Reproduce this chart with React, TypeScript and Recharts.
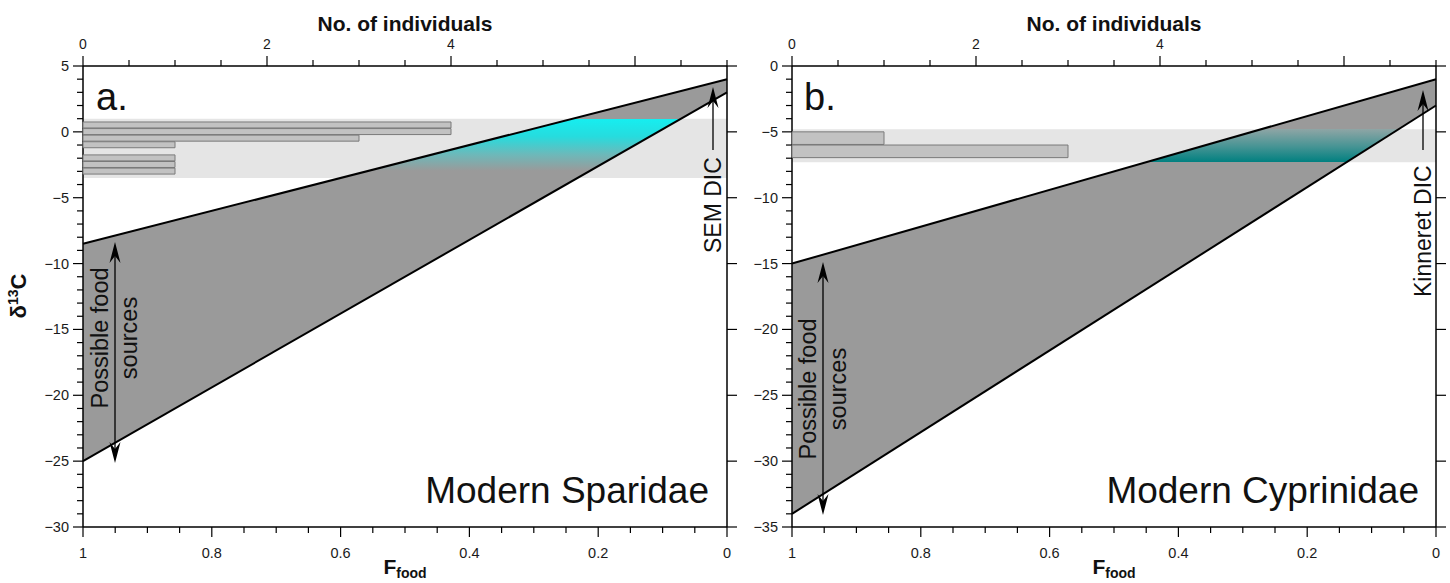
import { ComposedChart, Area, Line, XAxis, YAxis, BarChart, Bar } from "recharts";

// F_food at the two ends of the mixing lines
const fFood = [1, 0];

// a. Modern Sparidae
const spUpper = [-8.5, 4];
const spLower = [-25, 3];
const spBand = [-3.5, 1];
const spBins = [0.5, 0, -0.5, -1, -1.5, -2, -2.5, -3];
const spCounts = [4, 4, 3, 1, 0, 1, 1, 1];

// b. Modern Cyprinidae
const cyUpper = [-15, -1];
const cyLower = [-34, -3];
const cyBand = [-7.3, -4.8];
const cyBins = [-5.5, -6.5];
const cyCounts = [1, 3];

const fMajor = [1, 0.8, 0.6, 0.4, 0.2, 0];
const nLabels = [0, 2, 4];

const FONT = '"Liberation Sans", Arial, Helvetica, sans-serif';
const INK = "#1a1a1a";

const range = (a: number, b: number, step: number) => {
  const out: number[] = [];
  const n = Math.round((b - a) / step);
  for (let i = 0; i <= n; i++) out.push(Math.round((a + i * step) * 1000) / 1000);
  return out;
};
const near = (a: number, b: number) => Math.abs(a - b) < 1e-6;
const fmt = (v: number) => (v < 0 ? "\u2212" + String(-v) : String(v));

function BottomTick(props: any) {
  const { x, y, payload } = props;
  const v = payload.value;
  const major = fMajor.some(m => near(m, v));
  return (
    <g>
      <line x1={x} x2={x} y1={y} y2={y + (major ? 10 : 6)} stroke="#000" strokeWidth={1.2} />
      {major && (
        <text x={x} y={y + 31} textAnchor="middle" fontSize={14.5} fill={INK} fontFamily={FONT}>
          {fmt(v)}
        </text>
      )}
    </g>
  );
}

function LeftTick(props: any) {
  const { x, y, payload } = props;
  const v = payload.value;
  const major = v % 5 === 0;
  return (
    <g>
      <line x1={x - (major ? 10 : 6)} x2={x} y1={y} y2={y} stroke="#000" strokeWidth={1.2} />
      {major && (
        <text x={x - 14} y={y + 5} textAnchor="end" fontSize={14.5} fill={INK} fontFamily={FONT}>
          {fmt(v)}
        </text>
      )}
    </g>
  );
}

function RightTick(props: any) {
  const { x, y } = props;
  return <line x1={x} x2={x + 10} y1={y} y2={y} stroke="#000" strokeWidth={1.2} />;
}

function TopTick(props: any) {
  const { x, y, payload } = props;
  const v = payload.value;
  const major = v % 2 === 0;
  return (
    <g>
      <line x1={x} x2={x} y1={y} y2={y - (major ? 10 : 6)} stroke="#000" strokeWidth={1.2} />
      {nLabels.includes(v) && (
        <text x={x} y={y - 17} textAnchor="middle" fontSize={14} fill={INK} fontFamily={FONT}>
          {v}
        </text>
      )}
    </g>
  );
}

interface PanelProps {
  id: string;
  left: number;
  width: number;
  rightW: number;
  upper: number[];
  lower: number[];
  band: number[];
  bins: number[];
  counts: number[];
  yMin: number;
  yMax: number;
  bandStops: [number, string][];
  barSize: number;
}

function Panel({ id, left, width, rightW, upper, lower, band, bins, counts, yMin, yMax, bandStops, barSize }: PanelProps) {
  const rows = fFood.map((f, i) => ({
    f,
    hi: upper[i],
    lo: lower[i],
    wedge: [lower[i], upper[i]],
    band: [band[0], band[1]],
  }));
  const hist = bins.map((d, i) => ({ d, n: counts[i] }));

  // gradient offsets inside the wedge's bounding box, from the band limits
  const top = Math.max(...upper, ...lower);
  const bottom = Math.min(...upper, ...lower);
  const o1 = (top - band[1]) / (top - bottom);
  const o2 = (top - band[0]) / (top - bottom);

  const yTicks = range(yMin, yMax, 1);
  const yMajor = range(yMin, yMax, 5);

  return (
    <>
      <div style={{ position: "absolute", left, top: 0 }}>
        <ComposedChart width={width} height={583} data={rows} margin={{ top: 66, right: 0, bottom: 0, left: 0 }}>
          <defs>
            <linearGradient id={id} x1="0" y1="0" x2="0" y2="1">
              <stop offset={0} stopColor="#9a9a9a" />
              <stop offset={o1} stopColor="#9a9a9a" />
              {bandStops.map(([t, c], i) => (
                <stop key={i} offset={o1 + t * (o2 - o1)} stopColor={c} />
              ))}
              <stop offset={o2} stopColor="#9a9a9a" />
              <stop offset={1} stopColor="#9a9a9a" />
            </linearGradient>
          </defs>
          <XAxis
            dataKey="f"
            type="number"
            domain={[0, 1]}
            reversed
            ticks={range(0, 1, 0.05)}
            interval={0}
            height={56}
            tickSize={0}
            tickMargin={0}
            tickLine={false}
            tick={BottomTick}
            axisLine={{ stroke: "#000", strokeWidth: 1.5 }}
          />
          <YAxis
            type="number"
            domain={[yMin, yMax]}
            allowDataOverflow
            ticks={yTicks}
            interval={0}
            width={83}
            tickSize={0}
            tickMargin={0}
            tickLine={false}
            tick={LeftTick}
            axisLine={{ stroke: "#000", strokeWidth: 1.5 }}
          />
          <YAxis
            yAxisId="right"
            orientation="right"
            type="number"
            domain={[yMin, yMax]}
            allowDataOverflow
            ticks={yMajor}
            interval={0}
            width={rightW}
            tickSize={0}
            tickMargin={0}
            tickLine={false}
            tick={RightTick}
            axisLine={{ stroke: "#000", strokeWidth: 1.5 }}
          />
          <Area dataKey="band" type="linear" fill="#e5e5e5" fillOpacity={1} stroke="none" isAnimationActive={false} />
          <Area dataKey="wedge" type="linear" fill={`url(#${id})`} fillOpacity={1} stroke="none" isAnimationActive={false} />
          <Line dataKey="hi" type="linear" stroke="#000" strokeWidth={2} dot={false} isAnimationActive={false} />
          <Line dataKey="lo" type="linear" stroke="#000" strokeWidth={2} dot={false} isAnimationActive={false} />
        </ComposedChart>
      </div>
      <div style={{ position: "absolute", left, top: 0 }}>
        <BarChart
          width={width}
          height={583}
          data={hist}
          layout="vertical"
          margin={{ top: 0, right: rightW, bottom: 56, left: 83 }}
        >
          <XAxis
            type="number"
            orientation="top"
            domain={[0, 7]}
            ticks={range(0, 7, 0.5)}
            interval={0}
            height={66}
            tickSize={0}
            tickMargin={0}
            tickLine={false}
            tick={TopTick}
            axisLine={{ stroke: "#000", strokeWidth: 1.5 }}
          />
          <YAxis type="number" dataKey="d" domain={[yMin, yMax]} allowDataOverflow reversed hide />
          <Bar dataKey="n" fill="#c2c2c2" stroke="#7a7a7a" strokeWidth={1} barSize={barSize} isAnimationActive={false} />
        </BarChart>
      </div>
    </>
  );
}

function ArrowHead({ x, y, dir }: { x: number; y: number; dir: 1 | -1 }) {
  // dir 1: pointing up, -1: pointing down
  const b = y + dir * 21;
  const n = y + dir * 14;
  return <path d={`M${x},${y} L${x + 5.5},${b} L${x},${n} L${x - 5.5},${b} Z`} fill="#000" />;
}

function Annotations() {
  const t = { fontFamily: FONT, fill: "#111" };
  return (
    <svg width={1450} height={583} style={{ position: "absolute", left: 0, top: 0, pointerEvents: "none" }}>
      {/* axis titles */}
      <text x={405} y={31} textAnchor="middle" fontSize={21} fontWeight="bold" {...t}>No. of individuals</text>
      <text x={1114} y={31} textAnchor="middle" fontSize={21} fontWeight="bold" {...t}>No. of individuals</text>
      <text x={405} y={574} textAnchor="middle" fontSize={21} fontWeight="bold" {...t}>
        F<tspan fontSize={14} dy={4}>food</tspan>
      </text>
      <text x={1114} y={574} textAnchor="middle" fontSize={21} fontWeight="bold" {...t}>
        F<tspan fontSize={14} dy={4}>food</tspan>
      </text>
      <text x={26} y={296} transform="rotate(-90 26 296)" textAnchor="middle" fontSize={22} fontWeight="bold" {...t}>
        δ<tspan fontSize={14} dy={-8}>13</tspan><tspan dy={8}>C</tspan>
      </text>

      {/* panel letters and titles */}
      <text x={96} y={110} fontSize={38} {...t}>a.</text>
      <text x={804} y={110} fontSize={38} {...t}>b.</text>
      <text x={709} y={503} textAnchor="end" fontSize={37} {...t}>Modern Sparidae</text>
      <text x={1419} y={503} textAnchor="end" fontSize={37} {...t}>Modern Cyprinidae</text>

      {/* possible food sources, panel a */}
      <line x1={115} x2={115} y1={254} y2={451} stroke="#000" strokeWidth={1.3} />
      <ArrowHead x={115} y={242} dir={1} />
      <ArrowHead x={115} y={463} dir={-1} />
      <text x={100} y={338} transform="rotate(-90 100 338)" textAnchor="middle" dominantBaseline="central" fontSize={23.5} {...t}>Possible food</text>
      <text x={129} y={338} transform="rotate(-90 129 338)" textAnchor="middle" dominantBaseline="central" fontSize={23.5} {...t}>sources</text>

      {/* possible food sources, panel b */}
      <line x1={823} x2={823} y1={274} y2={503} stroke="#000" strokeWidth={1.3} />
      <ArrowHead x={823} y={262} dir={1} />
      <ArrowHead x={823} y={515} dir={-1} />
      <text x={808} y={389} transform="rotate(-90 808 389)" textAnchor="middle" dominantBaseline="central" fontSize={23.5} {...t}>Possible food</text>
      <text x={838} y={389} transform="rotate(-90 838 389)" textAnchor="middle" dominantBaseline="central" fontSize={23.5} {...t}>sources</text>

      {/* DIC labels */}
      <line x1={713} x2={713} y1={150} y2={100} stroke="#000" strokeWidth={1.3} />
      <ArrowHead x={713} y={87} dir={1} />
      <text x={713} y={253} transform="rotate(-90 713 253)" textAnchor="start" dominantBaseline="central" fontSize={23} {...t}>SEM DIC</text>
      <line x1={1423} x2={1423} y1={150} y2={103} stroke="#000" strokeWidth={1.3} />
      <ArrowHead x={1423} y={90} dir={1} />
      <text x={1423} y={297} transform="rotate(-90 1423 297)" textAnchor="start" dominantBaseline="central" fontSize={23} {...t}>Kinneret DIC</text>
    </svg>
  );
}

export default function App() {
  return (
    <div style={{ position: "absolute", left: 0, top: 0, width: 1450, height: 583, background: "#fff", fontFamily: FONT }}>
      <Panel
        id="gradSparidae"
        left={0}
        width={760}
        rightW={33}
        upper={spUpper}
        lower={spLower}
        band={spBand}
        bins={spBins}
        counts={spCounts}
        yMin={-30}
        yMax={5}
        bandStops={[[0, "#16eef0"], [0.3, "#26dcde"], [0.6, "#6cb9ba"], [0.88, "#9a9a9a"]]}
        barSize={6}
      />
      <Panel
        id="gradCyprinidae"
        left={709}
        width={741}
        rightW={14}
        upper={cyUpper}
        lower={cyLower}
        band={cyBand}
        bins={cyBins}
        counts={cyCounts}
        yMin={-35}
        yMax={0}
        bandStops={[[0, "#8ea5a5"], [0.5, "#4a9595"], [1, "#008080"]]}
        barSize={12.6}
      />
      <Annotations />
    </div>
  );
}
